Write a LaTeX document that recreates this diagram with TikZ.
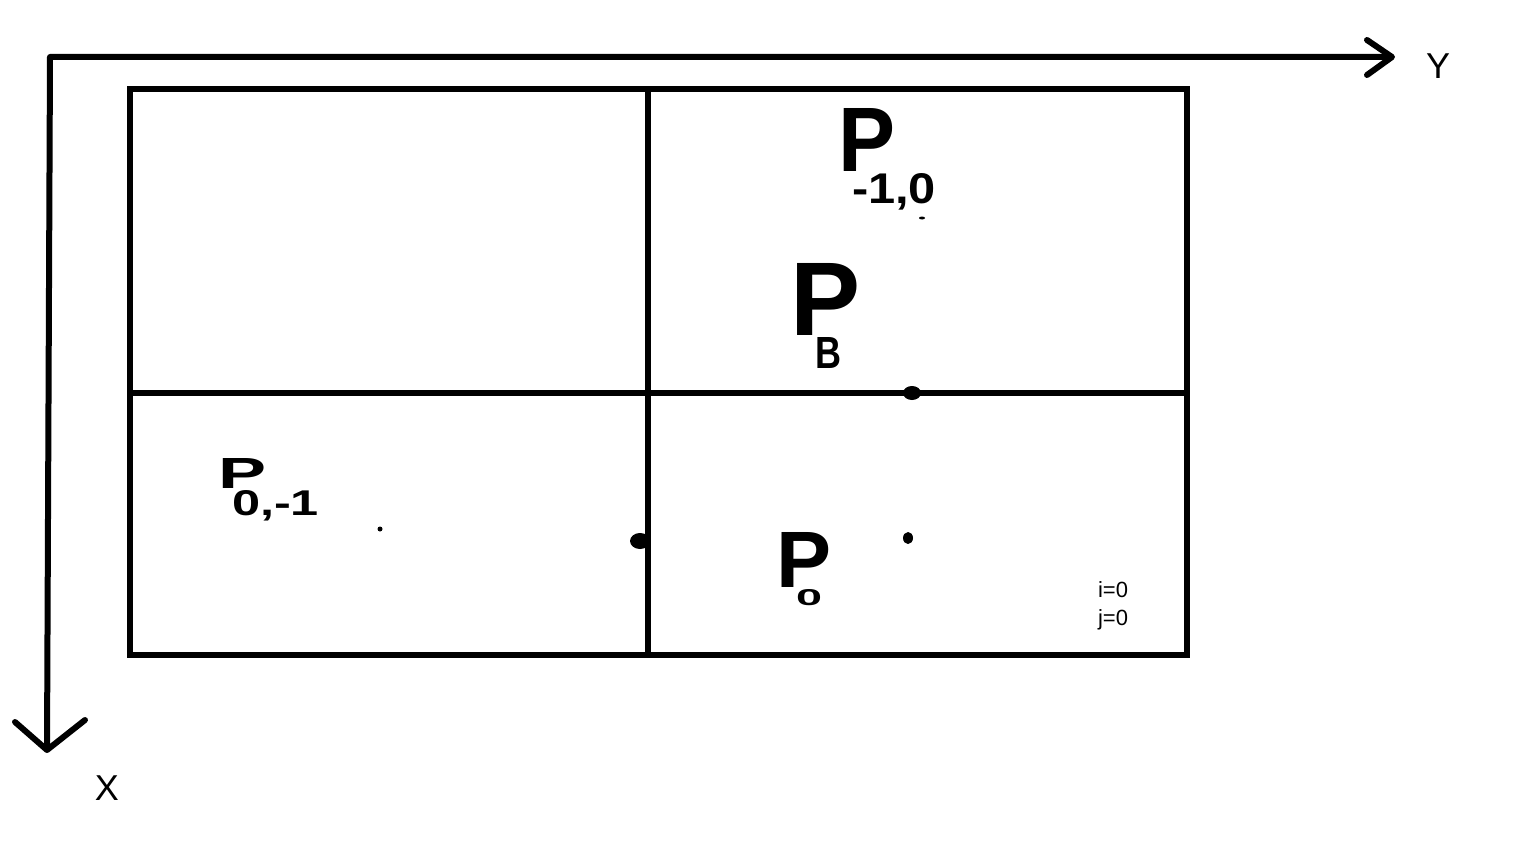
\documentclass[tikz,border=0pt]{standalone}
\usepackage{fontspec}
\setmainfont{Liberation Sans}
\newcommand{\hwtext}[3]{\resizebox{#1pt}{#2pt}{#3}}
% \hwlabel{P width}{P height}{shift}{drop}{sub width}{sub height}{sub text}
\newcommand{\hwlabel}[7]{\hwtext{#1}{#2}{P}\hspace{#3pt}\raisebox{-#4pt}{\hwtext{#5}{#6}{#7}}}
\begin{document}
\begin{tikzpicture}[x=1pt,y=-1pt,
  stroke/.style={line width=6pt,line cap=round,line join=round},
  gridline/.style={line width=6pt,line cap=rect},
  hw/.style={inner sep=0pt,outer sep=0pt,anchor=north west,font=\bfseries},
  axlabel/.style={inner sep=0pt,font=\fontsize{36}{38}\selectfont},
  smalltxt/.style={inner sep=0pt,font=\fontsize{22}{24}\selectfont},
  blob/.style={fill=black,draw=none}]
\useasboundingbox[fill=white] (0,0) rectangle (1536,864);
% axes
\coordinate (O) at (50,57);
\coordinate (Yend) at (1392,57);
\coordinate (Xend) at (47,750);
\coordinate (ya1) at (1367,40);
\coordinate (ya2) at (1367,75);
\coordinate (xa1) at (15,722);
\coordinate (xa2) at (85,720);
\draw[stroke,line cap=butt] (Xend) -- (O) -- (Yend);
\draw[stroke] (ya1) -- (Yend) -- (ya2);
\draw[stroke] (xa1) -- (Xend) -- (xa2);
\node[axlabel] (ylab) at (1438,66) {Y};
\node[axlabel] (xlab) at (107,788) {X};
% grid
\coordinate (TL) at (130,89);
\coordinate (BR) at (1187,655);
\draw[gridline,line join=miter] (TL) rectangle (BR);
\draw[gridline] (648,89) -- (648,655);
\draw[gridline] (130,393) -- (1187,393);
% labels
\node[hw] (p1) at (838,108) {\hwlabel{57}{63}{-43}{32}{84}{30}{-1,0}};
\node[hw] (pb) at (790,263) {\hwlabel{70}{72}{-45}{33}{26}{31}{B}};
\node[hw] (p2) at (218,458) {\hwlabel{48}{30}{-34}{27}{87}{25}{0,-1}};
\node[hw] (p0) at (776,532) {\hwlabel{55}{55}{-35}{18}{26}{16}{0}};
\node[smalltxt] (ilab) at (1113,590) {i=0};
\node[smalltxt] (jlab) at (1113,620) {j=0};
% dots
\fill[blob] (922,218) ellipse (3pt and 1.5pt);
\fill[blob] (912,393) ellipse (9pt and 7pt);
\fill[blob] (380,529) circle (2.5pt);
\fill[blob] (640,541) ellipse (10pt and 8pt);
\fill[blob] (908,538) ellipse (5pt and 6pt);
\end{tikzpicture}
\end{document}
